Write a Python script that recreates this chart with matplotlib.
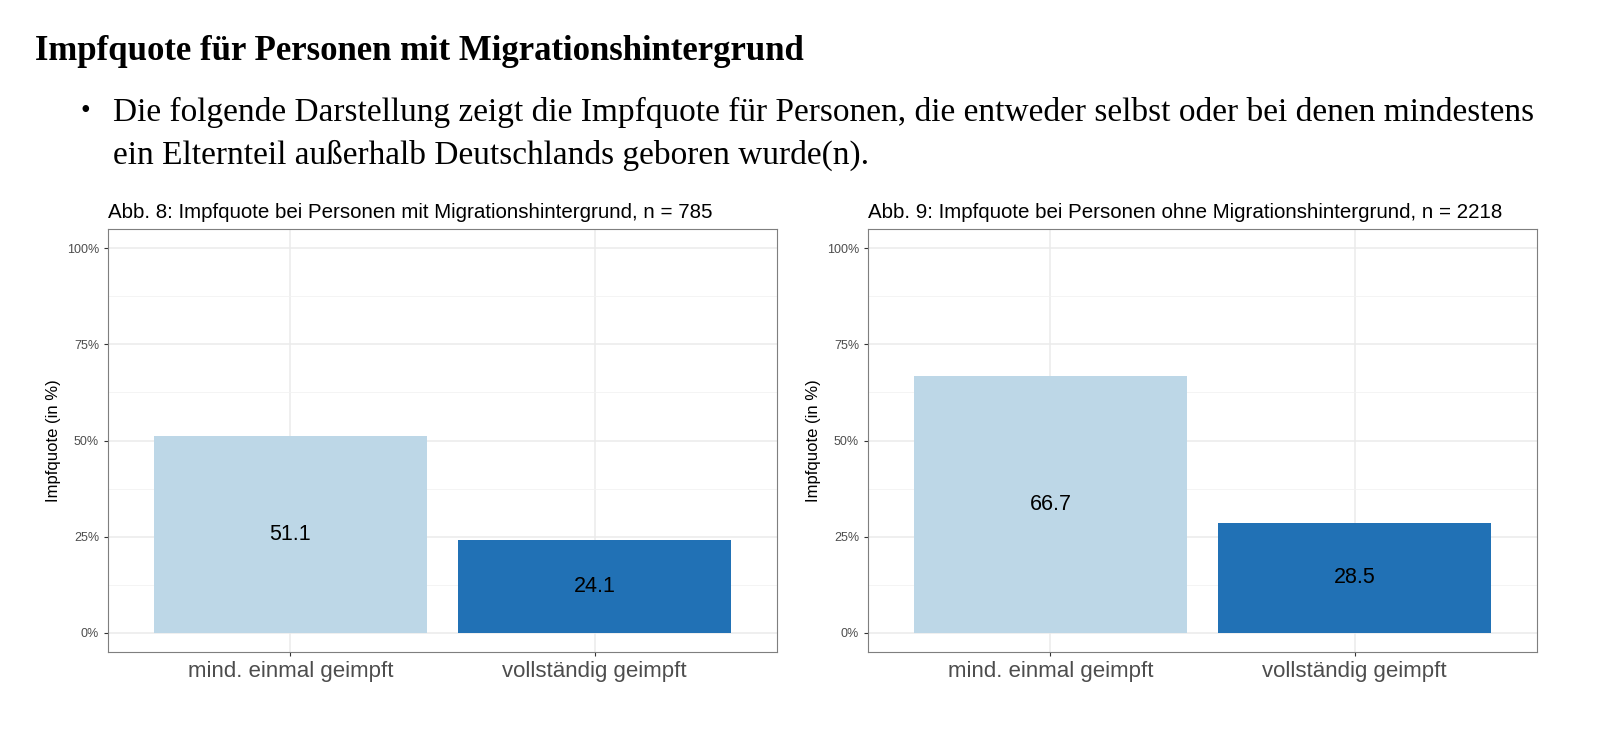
import matplotlib

matplotlib.use("Agg")

import matplotlib.pyplot as plt

CATEGORIES = ["mind. einmal geimpft", "vollständig geimpft"]
VALUES_MIGRATION = [51.1, 24.1]
VALUES_OHNE = [66.7, 28.5]
TITLES = [
    "Abb. 8: Impfquote bei Personen mit Migrationshintergrund, n = 785",
    "Abb. 9: Impfquote bei Personen ohne Migrationshintergrund, n = 2218",
]
YTICKS = [0, 25, 50, 75, 100]
YTICK_LABELS = ["0%", "25%", "50%", "75%", "100%"]
COLORS = ["#bdd7e7", "#2171b5"]

plt.rcParams["font.family"] = ["Liberation Sans", "DejaVu Sans"]

fig = plt.figure(figsize=(16, 7.44), dpi=100)

serif = ["Liberation Serif", "DejaVu Serif"]
fig.text(35 / 1600, 1 - 52 / 744, "Impfquote für Personen mit Migrationshintergrund",
         family=serif, fontsize=25, fontweight="bold", va="center")
fig.text(80 / 1600, 1 - 112 / 744, "•", family=serif, fontsize=20, va="center")
fig.text(113 / 1600, 1 - 112 / 744,
         "Die folgende Darstellung zeigt die Impfquote für Personen, die entweder selbst oder bei denen mindestens",
         family=serif, fontsize=24, va="center")
fig.text(113 / 1600, 1 - 155 / 744,
         "ein Elternteil außerhalb Deutschlands geboren wurde(n).",
         family=serif, fontsize=24, va="center")

lefts = [108 / 1600, 868 / 1600]
for left, title, values in zip(lefts, TITLES, [VALUES_MIGRATION, VALUES_OHNE]):
    ax = fig.add_axes([left, 1 - 652 / 744, 669 / 1600, 423 / 744])
    x = list(range(1, len(CATEGORIES) + 1))
    ax.bar(x, values, width=0.9, color=COLORS, zorder=2)
    for xi, v in zip(x, values):
        ax.text(xi, v / 2, f"{v}", ha="center", va="center", fontsize=15.5, zorder=3)
    ax.set_xlim(0.4, 2.6)
    ax.set_ylim(-5, 105)
    ax.set_yticks(YTICKS)
    ax.set_yticklabels(YTICK_LABELS, fontsize=9, color="#4d4d4d")
    ax.set_yticks([12.5, 37.5, 62.5, 87.5], minor=True)
    ax.set_xticks(x)
    ax.set_xticklabels(CATEGORIES, fontsize=16, color="#4d4d4d")
    ax.grid(True, which="major", color="#ebebeb", lw=1.1, zorder=0)
    ax.grid(True, which="minor", axis="y", color="#f2f2f2", lw=0.6, zorder=0)
    ax.tick_params(which="minor", length=0)
    ax.tick_params(which="major", length=3, color="#333333")
    for s in ax.spines.values():
        s.set_color("#7f7f7f")
        s.set_linewidth(0.8)
    ax.set_ylabel("Impfquote (in %)", fontsize=12)
    ax.set_title(title, fontsize=14.8, loc="left", x=0, pad=8)

fig.savefig("out.png", dpi=100)
